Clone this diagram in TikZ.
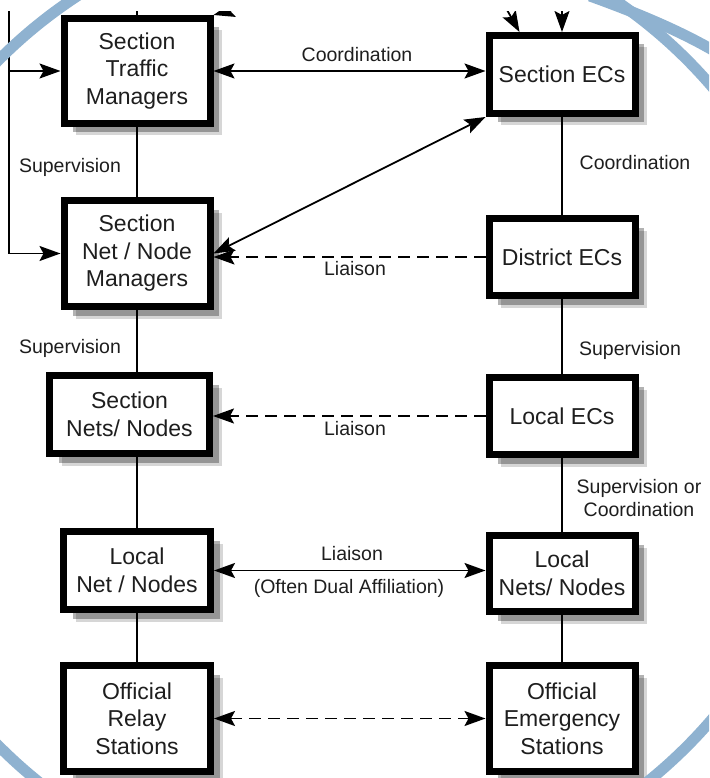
\documentclass[tikz,border=0pt]{standalone}
\usepackage{fontspec}
\setmainfont{Liberation Sans}
\usetikzlibrary{arrows.meta,shadows,calc}
\definecolor{ringblue}{RGB}{143,178,208}
\definecolor{ink}{RGB}{30,30,30}
\begin{document}
\begin{tikzpicture}[x=1pt,y=-1pt,
  box/.style={draw=black, line width=7pt, fill=white, align=center, inner sep=0pt,
     font=\fontsize{23}{27.5}\selectfont, text=ink,
     drop shadow={shadow xshift=12pt,shadow yshift=-12pt,fill=black,opacity=0.16},
     drop shadow={shadow xshift=9pt,shadow yshift=-9pt,fill=black,opacity=0.30}},
  lbl/.style={font=\fontsize{19.5}{23}\selectfont, text=ink, inner sep=0pt, align=center},
  conn/.style={line width=1.8pt, draw=black},
  dashconn/.style={conn, dash pattern=on 12pt off 7pt},
  tipend/.style={-{Stealth[length=21pt,width=15pt,inset=4pt]}},
  tipboth/.style={{Stealth[length=21pt,width=15pt,inset=4pt]}-{Stealth[length=21pt,width=15pt,inset=4pt]}},
  ring/.style={draw=ringblue, line width=11pt}
]
\useasboundingbox (0,0) rectangle (709,778);
\clip (0,0) rectangle (709,778);

% boxes
\node[box, minimum width=146pt, minimum height=105pt] (stm) at (137,71) {Section\\Traffic\\Managers};
\node[box, minimum width=146pt, minimum height=78pt] (sec) at (562,74.5) {Section ECs};
\node[box, minimum width=146pt, minimum height=106pt] (snnm) at (137,253.5) {Section\\Net / Node\\Managers};
\node[box, minimum width=160pt, minimum height=78pt] (snn) at (129.5,414.5) {Section\\Nets/ Nodes};
\node[box, minimum width=146pt, minimum height=77pt] (dec) at (562,257) {District ECs};
\node[box, minimum width=146pt, minimum height=77pt] (lec) at (562,416) {Local ECs};
\node[box, minimum width=147pt, minimum height=78pt] (lnn) at (137,570.5) {Local\\Net / Nodes};
\node[box, minimum width=147pt, minimum height=106pt] (ors) at (137,718.5) {Official\\Relay\\Stations};
\node[box, minimum width=146pt, minimum height=76pt] (lnnr) at (562,573.5) {Local\\Nets/ Nodes};
\node[box, minimum width=146pt, minimum height=106pt] (oes) at (562,718.5) {Official\\Emergency\\Stations};

% vertical connectors
\draw[conn] (stm.south) -- (snnm.north);
\draw[conn] (snnm.south) -- (snnm.south |- snn.north);
\draw[conn] (lnn.north |- snn.south) -- (lnn.north);
\draw[conn] (lnn.south) -- (ors.north);
\draw[conn] (sec.south) -- (dec.north);
\draw[conn] (dec.south) -- (lec.north);
\draw[conn] (lec.south) -- (lnnr.north);
\draw[conn] (lnnr.south) -- (oes.north);

% horizontal / diagonal connectors
\draw[conn, tipboth] (stm.east) -- (stm.east -| sec.west);
\draw[conn, tipboth] (snnm.east) -- (sec.south west);
\draw[dashconn, tipend] (dec.west) -- (dec.west -| snnm.east);
\draw[dashconn, tipend] (lec.west) -- (lec.west -| snn.east);
\draw[conn, tipboth] (lnn.east) -- (lnn.east -| lnnr.west);
\draw[dashconn, tipboth] (ors.east) -- (ors.east -| oes.west);

% feeders from above (cut by the white top margin)
\coordinate (ftop) at (9,0);
\draw[conn, tipend] (ftop) -- (ftop |- snnm.west) -- (snnm.west);
\draw[conn, tipend] (ftop |- stm.west) -- (stm.west);
\coordinate (stmtop) at (137,0);
\draw[conn] (stmtop) -- (stm.north);
\coordinate (stmfeed) at (270,0);
\draw[conn, tipend] (stmfeed) -- (stm.north east);
\coordinate (secfeedA) at (498,-6);
\draw[conn, tipend] (secfeedA) -- ($(sec.north west)+(34,0)$);
\coordinate (secfeedB) at (562,-6);
\draw[conn, tipend] (secfeedB) -- (sec.north);

% white top margin of the scan
\fill[white] (0,0) rectangle (709,11);

% labels
\node[lbl] (lcoord1) at (357,55) {Coordination};
\node[lbl] (lsup1) at (70,167) {Supervision};
\node[lbl] (lcoord2) at (635,163) {Coordination};
\node[lbl] (lliai1) at (355,269) {Liaison};
\node[lbl] (lsup2) at (70,348) {Supervision};
\node[lbl] (lsup3) at (630,350) {Supervision};
\node[lbl] (lliai2) at (355,429) {Liaison};
\node[lbl] (lsupco) at (639,498.5) {Supervision or\\Coordination};
\node[lbl] (lliai3) at (352,554) {Liaison};
\node[lbl] (ldual) at (349,588) {(Often Dual Affiliation)};

% decorative ring
\draw[ring] (343,403) circle[radius=486];
\draw[ring] (590,-4) .. controls (640,14) and (682,32) .. (716,52);
\end{tikzpicture}
\end{document}
